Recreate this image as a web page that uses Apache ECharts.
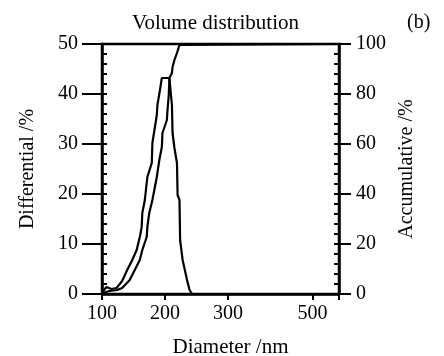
<!DOCTYPE html>
<html>
<head>
<meta charset="utf-8">
<script src="https://cdn.jsdelivr.net/npm/echarts@6/dist/echarts.min.js"></script>
<style>
  html, body { margin: 0; padding: 0; background: #fff; }
  #main { width: 444px; height: 356px; }
</style>
</head>
<body>
<div id="main"></div>
<script>
// x axis labels and where they sit along the axis (in label steps)
var tickLabels = [100, 200, 300, 500];
var tickSpots = [0, 1, 2, 3.34];
var xMaxNm = 563;

// differential curve (left axis, %)
var diffNm = [101, 107, 115, 123, 132, 140, 148, 155, 160, 163, 164, 168, 172, 179, 180, 184, 187, 188, 192, 195,
  207, 211, 212, 215, 219, 220, 223, 224, 228, 235, 239, 243];
var diffVal = [0.4, 1.4, 1.0, 1.2, 2.6, 4.8, 6.8, 8.8, 11.4, 13.4, 16.2, 18.8, 23.4, 26.2, 30.2, 33.4, 35.8, 37.8, 40.8, 43.2,
  43.2, 37.8, 32.2, 29.2, 26.2, 19.8, 18.8, 10.8, 6.8, 2.8, 0.8, 0];

// accumulative curve (right axis, %)
var accNm = [101, 112, 124, 132, 144, 152, 160, 164, 171, 172, 175, 180, 187, 191, 195, 196, 203, 204, 206, 207,
  211, 212, 215, 219, 223, 225, 560];
var accVal = [0.4, 1.2, 1.6, 2.4, 5.6, 9.6, 13.6, 17.6, 22.8, 26.8, 32.4, 37.6, 46.8, 53.6, 58.8, 64.4, 69.6, 73.6, 79.6, 86.4,
  88.4, 90.8, 93.6, 96.4, 99.6, 100, 100];

// piecewise scale through the labelled ticks
function toAxis(nm) {
  var i = 0;
  while (i < tickLabels.length - 2 && nm > tickLabels[i + 1]) i++;
  var t = (nm - tickLabels[i]) / (tickLabels[i + 1] - tickLabels[i]);
  return tickSpots[i] + t * (tickSpots[i + 1] - tickSpots[i]);
}
function fromAxis(u) {
  for (var i = 0; i < tickSpots.length; i++) {
    if (Math.abs(u - tickSpots[i]) < 1e-6) return String(tickLabels[i]);
  }
  return '';
}

var xMax = toAxis(xMaxNm);
var font = 'Liberation Serif';
var black = '#000';

var diffData = diffNm.map(function (d, i) { return [toAxis(d), diffVal[i]]; });
var accData = accNm.map(function (d, i) { return [toAxis(d), accVal[i]]; });

var chart = echarts.init(document.getElementById('main'));
chart.setOption({
  animation: false,
  backgroundColor: '#fff',
  title: [
    { text: 'Volume distribution', left: 127, top: 8,
      textStyle: { fontFamily: font, fontSize: 21, fontWeight: 'normal', color: black } },
    { text: '(b)', left: 402, top: 8,
      textStyle: { fontFamily: font, fontSize: 20, fontWeight: 'normal', color: black } }
  ],
  grid: {
    left: 102, right: 105, top: 44, bottom: 62,
    show: true, borderColor: black, borderWidth: 2.5,
    outerBoundsMode: 'none'
  },
  xAxis: {
    type: 'value', min: 0, max: xMax,
    name: 'Diameter /nm', nameLocation: 'middle', nameGap: 43,
    nameTextStyle: { fontFamily: font, fontSize: 21, color: black, padding: [0, 0, 0, 20] },
    axisLine: { show: true, lineStyle: { color: black, width: 2.5 } },
    axisTick: { show: true, length: 6, lineStyle: { color: black, width: 2 },
      customValues: tickSpots.concat([xMax]) },
    axisLabel: { fontFamily: font, fontSize: 20, color: black, margin: 10,
      customValues: tickSpots, formatter: fromAxis },
    splitLine: { show: false }
  },
  yAxis: [
    {
      type: 'value', position: 'left', min: 0, max: 50, interval: 10,
      name: 'Differential /%', nameLocation: 'middle', nameGap: 64, nameRotate: 90,
      nameTextStyle: { fontFamily: font, fontSize: 20, color: black },
      axisLine: { show: true, lineStyle: { color: black, width: 2.5 } },
      axisTick: { show: true, length: 20, lineStyle: { color: black, width: 2 } },
      axisLabel: { fontFamily: font, fontSize: 20, color: black, margin: 24 },
      splitLine: { show: false }
    },
    {
      type: 'value', position: 'left', min: 0, max: 50, interval: 10,
      axisLine: { show: false },
      axisTick: { show: true, inside: true, length: 5, lineStyle: { color: black, width: 2 } },
      minorTick: { show: true, splitNumber: 5, length: 5, lineStyle: { color: black, width: 2 } },
      axisLabel: { show: false },
      splitLine: { show: false }
    },
    {
      type: 'value', position: 'right', min: 0, max: 100, interval: 20,
      name: 'Accumulative /%', nameLocation: 'middle', nameGap: 50, nameRotate: 90,
      nameTextStyle: { fontFamily: font, fontSize: 20, color: black },
      axisLine: { show: true, lineStyle: { color: black, width: 2.5 } },
      axisTick: { show: true, length: 12, lineStyle: { color: black, width: 2 } },
      axisLabel: { fontFamily: font, fontSize: 20, color: black, margin: 17 },
      splitLine: { show: false }
    },
    {
      type: 'value', position: 'right', min: 0, max: 100, interval: 20,
      axisLine: { show: false },
      axisTick: { show: true, inside: true, length: 5, lineStyle: { color: black, width: 2 } },
      minorTick: { show: true, splitNumber: 5, length: 5, lineStyle: { color: black, width: 2 } },
      axisLabel: { show: false },
      splitLine: { show: false }
    }
  ],
  series: [
    {
      name: 'Differential', type: 'line', yAxisIndex: 0, data: diffData,
      showSymbol: false, lineStyle: { color: black, width: 2.2 }
    },
    {
      name: 'Accumulative', type: 'line', yAxisIndex: 2, data: accData,
      showSymbol: false, lineStyle: { color: black, width: 2.2 }
    }
  ]
});
</script>
</body>
</html>
